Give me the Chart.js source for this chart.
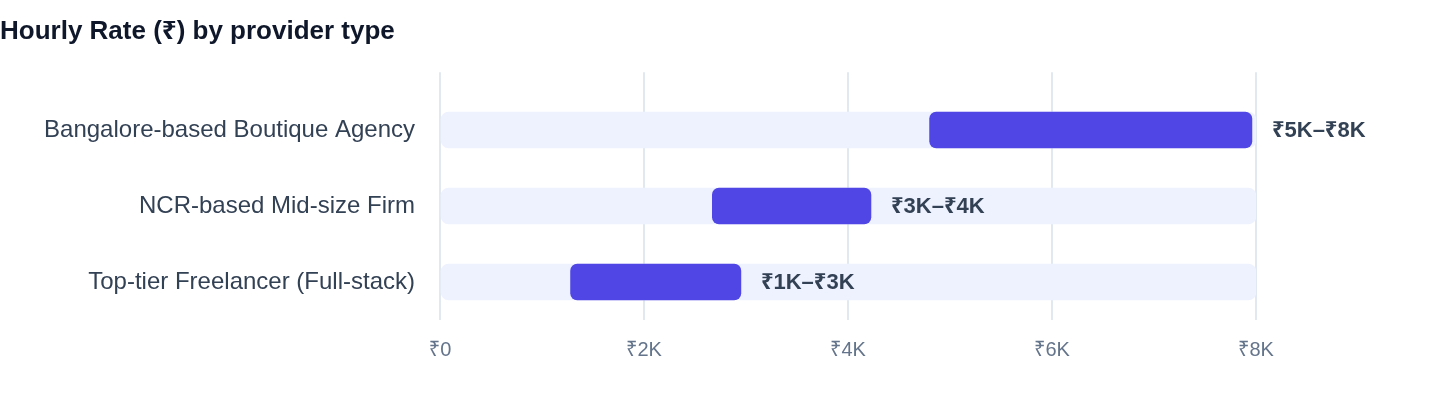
<!DOCTYPE html>
<html>
<head>
<meta charset="utf-8">
<title>Hourly Rate by provider type</title>
<script src="https://cdn.jsdelivr.net/npm/chart.js@4.4.1/dist/chart.umd.min.js"></script>
<style>
  html, body { margin: 0; padding: 0; background: #ffffff; }
  #wrap { position: relative; width: 1440px; height: 408px; }
</style>
</head>
<body>
<div id="wrap"><canvas id="rate-chart"></canvas></div>
<script>
// Provider types, top to bottom
const providers = ['Bangalore-based Boutique Agency', 'NCR-based Mid-size Firm', 'Top-tier Freelancer (Full-stack)'];
// Hourly rate range (₹)
const rateLow = [4800, 2670, 1280];
const rateHigh = [7960, 4225, 2950];
const rangeLabels = ['₹5K–₹8K', '₹3K–₹4K', '₹1K–₹3K'];
// Full scale used for the pale track behind each range
const scaleMax = 8000;
const trackMax = [8000, 8000, 8000];
const xTickValues = [0, 2000, 4000, 6000, 8000];
const xTickLabels = ['₹0', '₹2K', '₹4K', '₹6K', '₹8K'];

const FONT = '"Liberation Sans", Arial, "Noto Sans", "DejaVu Sans", sans-serif';

// Writes the range text just past the end of each indigo bar
const rangeLabelPlugin = {
    id: 'rangeLabels',
    afterDatasetsDraw(chart) {
        const meta = chart.getDatasetMeta(0);
        const ctx = chart.ctx;
        ctx.save();
        ctx.font = 'bold 22px ' + FONT;
        ctx.fillStyle = '#334155';
        ctx.textAlign = 'left';
        ctx.textBaseline = 'middle';
        meta.data.forEach((bar, i) => {
            ctx.fillText(rangeLabels[i], bar.x + 20, bar.y + 1);
        });
        ctx.restore();
    }
};

const ctx = document.getElementById('rate-chart').getContext('2d');
new Chart(ctx, {
    type: 'bar',
    data: {
        datasets: [
            {
                label: 'Hourly rate range',
                data: providers.map((_, i) => ({ y: i, x: [rateLow[i], rateHigh[i]] })),
                backgroundColor: '#4f46e5',
                borderRadius: 7,
                borderSkipped: false,
                barThickness: 36,
                grouped: false,
                order: 0
            },
            {
                label: 'Track',
                data: providers.map((_, i) => ({ y: i, x: [0, trackMax[i]] })),
                backgroundColor: '#eef2ff',
                borderRadius: 8,
                borderSkipped: false,
                barThickness: 36,
                grouped: false,
                order: 1
            }
        ]
    },
    options: {
        indexAxis: 'y',
        responsive: true,
        maintainAspectRatio: false,
        animation: false,
        layout: { padding: { left: 0, right: 184, top: 0, bottom: 0 } },
        plugins: {
            legend: { display: false },
            tooltip: { enabled: false },
            title: {
                display: true,
                text: 'Hourly Rate (₹) by provider type',
                align: 'start',
                color: '#0f172a',
                font: { family: FONT, size: 26, weight: 'bold' },
                padding: { top: 16, bottom: 25 }
            }
        },
        scales: {
            x: {
                type: 'linear',
                position: 'bottom',
                min: 0,
                max: scaleMax,
                afterBuildTicks: (scale) => { scale.ticks = xTickValues.map(v => ({ value: v })); },
                afterFit: (scale) => { scale.height = 88; },
                ticks: {
                    color: '#64748b',
                    font: { family: FONT, size: 20 },
                    padding: 18,
                    callback: (v) => xTickLabels[xTickValues.indexOf(v)]
                },
                grid: { color: '#e2e8f0', lineWidth: 2, drawTicks: false },
                border: { display: false }
            },
            y: {
                type: 'linear',
                reverse: true,
                offset: false,
                // headroom above the first row
                min: -0.76,
                max: 2.5,
                afterBuildTicks: (scale) => { scale.ticks = providers.map((_, i) => ({ value: i })); },
                afterFit: (scale) => { scale.width = 440; },
                ticks: {
                    color: '#334155',
                    font: { family: FONT, size: 24 },
                    padding: 25,
                    callback: (v) => providers[v]
                },
                grid: { display: false, drawTicks: false },
                border: { display: false }
            }
        }
    },
    plugins: [rangeLabelPlugin]
});
</script>
</body>
</html>
